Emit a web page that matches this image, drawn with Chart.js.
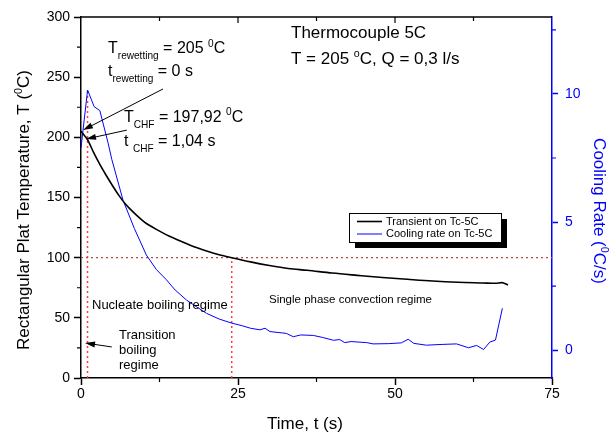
<!DOCTYPE html>
<html>
<head>
<meta charset="utf-8">
<script src="https://cdn.jsdelivr.net/npm/chart.js@4.4.1/dist/chart.umd.min.js"></script>
<style>
  html, body { margin: 0; padding: 0; background: #fff; }
  #wrap { width: 609px; height: 435px; }
</style>
</head>
<body>
<div id="wrap"><canvas id="chart" width="609" height="435"></canvas></div>
<script>
var FONT = '"Liberation Sans", Arial, Helvetica, sans-serif';

// Transient on Tc-5C (left axis, degC)
var tempTime  = [0, 1.04, 2, 3, 4, 5, 6, 7, 8, 9, 10, 11, 12, 14, 16, 18, 20, 22, 24, 27, 30, 33, 36, 40, 44, 48, 52, 56, 60, 64, 66, 67, 68];
var tempValue = [205, 198, 187.5, 177.5, 168.5, 160, 152, 145, 139.5, 134.5, 130, 126.5, 123.5, 118, 113.5, 109, 105.5, 102.5, 100, 96.5, 93.5, 91, 89.5, 87.2, 85.3, 83.5, 82, 80.6, 79.6, 79, 78.7, 79.3, 77.3];

// Cooling rate on Tc-5C (right axis, degC/s)
var rateTime  = [0, 1.05, 2.1, 3, 4.3, 4.9, 6.7, 8.5, 10.4, 12, 13.6, 15, 16.8, 18.5, 20, 22, 24, 25.5, 27, 28.5, 29.3, 30.1, 32.7, 33.8, 35, 37, 38.5, 40.2, 41.2, 42, 43, 45.5, 46.5, 49, 51, 52.1, 53, 55, 57.5, 59.8, 61.7, 63, 64.1, 65.1, 66, 67.1];
var rateValue = [7.9, 10.15, 9.5, 9.35, 8.1, 7.45, 5.85, 4.75, 3.72, 3.15, 2.75, 2.35, 1.96, 1.68, 1.44, 1.22, 1.06, 0.97, 0.86, 0.8, 0.86, 0.73, 0.66, 0.53, 0.6, 0.58, 0.5, 0.39, 0.42, 0.3, 0.34, 0.3, 0.25, 0.26, 0.29, 0.43, 0.27, 0.2, 0.23, 0.25, 0.1, 0.19, 0.03, 0.32, 0.4, 1.64];

// reference lines
var chfTime = 1.04;
var chfTopTemp = 239;
var regimeTime = 24;
var refTemp = 100;

// ticks
var xTicks = [0, 12.5, 25, 37.5, 50, 62.5, 75];
var yTicks = [0, 25, 50, 75, 100, 125, 150, 175, 200, 225, 250, 275, 300];
var y2Ticks = [0, 2.5, 5, 7.5, 10, 12.5];

function toXY(xs, ys) {
  return xs.map(function(x, i) { return { x: x, y: ys[i] }; });
}

// texte mit tief-/hochgestellten teilen
function drawRich(ctx, parts, x, y, fs, align, color) {
  var sizes = parts.map(function(p) { return p[1] === 'n' ? fs : fs * 0.63; });
  var w = 0;
  parts.forEach(function(p, i) {
    ctx.font = sizes[i] + 'px ' + FONT;
    w += ctx.measureText(p[0]).width;
  });
  var cx = align === 'center' ? x - w / 2 : x;
  ctx.fillStyle = color || '#000';
  ctx.textAlign = 'left';
  ctx.textBaseline = 'alphabetic';
  parts.forEach(function(p, i) {
    var dy = p[1] === 'sub' ? fs * 0.38 : (p[1] === 'sup' ? -fs * 0.4 : 0);
    ctx.font = sizes[i] + 'px ' + FONT;
    ctx.fillText(p[0], cx, y + dy);
    cx += ctx.measureText(p[0]).width;
  });
}

function drawArrow(ctx, x1, y1, x2, y2) {
  var ang = Math.atan2(y2 - y1, x2 - x1);
  var len = 10, hw = 3;
  ctx.beginPath();
  ctx.moveTo(x1, y1);
  ctx.lineTo(x2 - Math.cos(ang) * len * 0.8, y2 - Math.sin(ang) * len * 0.8);
  ctx.stroke();
  ctx.beginPath();
  ctx.moveTo(x2, y2);
  ctx.lineTo(x2 - Math.cos(ang) * len - Math.sin(ang) * hw, y2 - Math.sin(ang) * len + Math.cos(ang) * hw);
  ctx.lineTo(x2 - Math.cos(ang) * len + Math.sin(ang) * hw, y2 - Math.sin(ang) * len - Math.cos(ang) * hw);
  ctx.closePath();
  ctx.fill();
}

// pfeile in datenkoordinaten: [t_von, T_von, t_nach, T_nach]
var arrows = [
  [13.06, 240.2, 0.32, 206],
  [7.3, 206, 0.8, 198.6],
  [4.9, 25.8, 0.64, 29.1]
];

var decorPlugin = {
  id: 'decor',
  afterDraw: function(chart) {
    var ctx = chart.ctx;
    var a = chart.chartArea;
    var sx = chart.scales.x, sy = chart.scales.y, sy2 = chart.scales.y2;
    ctx.save();

    // oberer rahmen
    ctx.strokeStyle = '#000';
    ctx.lineWidth = 1.5;
    ctx.beginPath();
    ctx.moveTo(a.left, a.top);
    ctx.lineTo(a.right, a.top);
    ctx.stroke();

    // kleine ticks
    ctx.lineWidth = 1.2;
    ctx.beginPath();
    xTicks.forEach(function(v) {
      var px = sx.getPixelForValue(v);
      var major = v % 25 === 0;
      if (!major) {
        ctx.moveTo(px, a.bottom);
        ctx.lineTo(px, a.bottom + 4);
      }
      if (v > 0 && v < 75) {
        ctx.moveTo(px, a.top);
        ctx.lineTo(px, a.top + (major ? 6 : 4));
      }
    });
    yTicks.forEach(function(v) {
      if (v % 50 !== 0) {
        var py = sy.getPixelForValue(v);
        ctx.moveTo(a.left, py);
        ctx.lineTo(a.left - 4, py);
      }
    });
    ctx.stroke();
    ctx.strokeStyle = '#0000ff';
    ctx.beginPath();
    y2Ticks.forEach(function(v) {
      if (v % 5 !== 0) {
        var py = sy2.getPixelForValue(v);
        ctx.moveTo(a.right, py);
        ctx.lineTo(a.right + 4, py);
      }
    });
    ctx.stroke();

    // achsentitel
    ctx.save();
    ctx.translate(29, 210);
    ctx.rotate(-Math.PI / 2);
    drawRich(ctx, [['Rectangular Plat Temperature, T (', 'n'], ['0', 'sup'], ['C)', 'n']], 0, 0, 17, 'center', '#000');
    ctx.restore();
    ctx.save();
    ctx.translate(594, 211);
    ctx.rotate(Math.PI / 2);
    drawRich(ctx, [['Cooling Rate (', 'n'], ['0', 'sup'], ['C/s)', 'n']], 0, 0, 17, 'center', '#0000ff');
    ctx.restore();
    drawRich(ctx, [['Time, t (s)', 'n']], 305, 428.5, 17, 'center', '#000');

    // beschriftungen
    drawRich(ctx, [['T', 'n'], ['rewetting', 'sub'], [' = 205 ', 'n'], ['0', 'sup'], ['C', 'n']], 108, 53, 16, 'left');
    drawRich(ctx, [['t', 'n'], ['rewetting', 'sub'], [' = 0 s', 'n']], 108, 76, 16, 'left');
    drawRich(ctx, [['T', 'n'], ['CHF', 'sub'], [' = 197,92 ', 'n'], ['0', 'sup'], ['C', 'n']], 124, 121.5, 16, 'left');
    drawRich(ctx, [['t ', 'n'], ['CHF', 'sub'], [' = 1,04 s', 'n']], 124, 146, 16, 'left');
    drawRich(ctx, [['Thermocouple 5C', 'n']], 291, 38, 17, 'left');
    drawRich(ctx, [['T = 205 ', 'n'], ['o', 'sup'], ['C, Q = 0,3 l/s', 'n']], 291, 64, 17, 'left');
    drawRich(ctx, [['Nucleate boiling regime', 'n']], 92, 308.5, 13, 'left');
    drawRich(ctx, [['Single phase convection regime', 'n']], 269, 303, 11.5, 'left');
    drawRich(ctx, [['Transition', 'n']], 119, 339, 13, 'left');
    drawRich(ctx, [['boiling', 'n']], 119, 354, 13, 'left');
    drawRich(ctx, [['regime', 'n']], 119, 369, 13, 'left');

    // pfeile
    ctx.strokeStyle = '#000';
    ctx.fillStyle = '#000';
    ctx.lineWidth = 1;
    arrows.forEach(function(ar) {
      drawArrow(ctx, sx.getPixelForValue(ar[0]), sy.getPixelForValue(ar[1]),
                sx.getPixelForValue(ar[2]), sy.getPixelForValue(ar[3]));
    });

    // legende mit schatten
    var lx = 349, ly = 213, lw = 152, lh = 29;
    ctx.fillStyle = '#000';
    ctx.fillRect(lx + 6, ly + 6, lw, lh);
    ctx.fillStyle = '#fff';
    ctx.fillRect(lx, ly, lw, lh);
    ctx.strokeStyle = '#000';
    ctx.lineWidth = 1;
    ctx.strokeRect(lx + 0.5, ly + 0.5, lw, lh);
    var rows = [chart.data.datasets[0], chart.data.datasets[1]];
    rows.forEach(function(ds, i) {
      var ry = ly + 8.5 + i * 12.5;
      ctx.strokeStyle = ds.borderColor;
      ctx.lineWidth = ds.borderWidth;
      ctx.beginPath();
      ctx.moveTo(357, ry);
      ctx.lineTo(382, ry);
      ctx.stroke();
      ctx.fillStyle = '#000';
      ctx.font = '11px ' + FONT;
      ctx.textAlign = 'left';
      ctx.textBaseline = 'middle';
      ctx.fillText(ds.label, 386, ry);
    });

    ctx.restore();
  }
};

function majorColor(every, color) {
  return function(c) {
    return c.tick && c.tick.value % every === 0 ? color : 'rgba(0,0,0,0)';
  };
}

var chart = new Chart(document.getElementById('chart'), {
  type: 'scatter',
  data: {
    datasets: [{
      label: 'Transient on Tc-5C',
      data: toXY(tempTime, tempValue),
      showLine: true,
      borderColor: '#000000',
      borderWidth: 1.6,
      pointRadius: 0,
      cubicInterpolationMode: 'monotone',
      yAxisID: 'y'
    }, {
      label: 'Cooling rate on Tc-5C',
      data: toXY(rateTime, rateValue),
      showLine: true,
      borderColor: '#0000ff',
      borderWidth: 1,
      pointRadius: 0,
      yAxisID: 'y2'
    }, {
      label: 'ref',
      data: [{ x: 0, y: refTemp }, { x: 75, y: refTemp }],
      showLine: true,
      borderColor: '#b04848',
      borderWidth: 1.3,
      borderDash: [2, 3],
      pointRadius: 0,
      yAxisID: 'y'
    }, {
      label: 'chf',
      data: [{ x: chfTime, y: 0 }, { x: chfTime, y: chfTopTemp }],
      showLine: true,
      borderColor: '#ff3b3b',
      borderWidth: 1.5,
      borderDash: [2, 3],
      pointRadius: 0,
      yAxisID: 'y'
    }, {
      label: 'regime',
      data: [{ x: regimeTime, y: 0 }, { x: regimeTime, y: refTemp }],
      showLine: true,
      borderColor: '#ff3b3b',
      borderWidth: 1.5,
      borderDash: [2, 3],
      pointRadius: 0,
      yAxisID: 'y'
    }]
  },
  options: {
    responsive: false,
    animation: false,
    layout: { padding: { top: 17, left: 0, right: 0, bottom: 0 } },
    plugins: {
      legend: { display: false },
      tooltip: { enabled: false }
    },
    scales: {
      x: {
        type: 'linear',
        position: 'bottom',
        min: 0,
        max: 75,
        afterBuildTicks: function(s) { s.ticks = xTicks.map(function(v) { return { value: v }; }); },
        afterFit: function(s) { s.height = 57; },
        ticks: {
          autoSkip: false,
          maxRotation: 0,
          padding: 1,
          color: '#000',
          font: { size: 14, family: FONT },
          callback: function(v) { return v % 25 === 0 ? v : ''; }
        },
        grid: { drawOnChartArea: false, tickLength: 7, tickWidth: 1.5, tickColor: majorColor(25, '#000') },
        border: { color: '#000', width: 1.5 }
      },
      y: {
        position: 'left',
        min: 0,
        max: 300,
        afterBuildTicks: function(s) { s.ticks = yTicks.map(function(v) { return { value: v }; }); },
        afterFit: function(s) { s.width = 81; },
        ticks: {
          autoSkip: false,
          padding: 4,
          color: '#000',
          font: { size: 14, family: FONT },
          callback: function(v) { return v % 50 === 0 ? v : ''; }
        },
        grid: { drawOnChartArea: false, tickLength: 7, tickWidth: 1.5, tickColor: majorColor(50, '#000') },
        border: { color: '#000', width: 1.5 }
      },
      y2: {
        position: 'right',
        min: -1.08,
        max: 13,
        afterBuildTicks: function(s) { s.ticks = y2Ticks.map(function(v) { return { value: v }; }); },
        afterFit: function(s) { s.width = 57; },
        ticks: {
          autoSkip: false,
          padding: 7,
          color: '#0000ff',
          font: { size: 14, family: FONT },
          callback: function(v) { return v % 5 === 0 ? v : ''; }
        },
        grid: { drawOnChartArea: false, tickLength: 6, tickWidth: 1.5, tickColor: majorColor(5, '#0000ff') },
        border: { color: '#0000ff', width: 1.5 }
      }
    }
  },
  plugins: [decorPlugin]
});
</script>
</body>
</html>
